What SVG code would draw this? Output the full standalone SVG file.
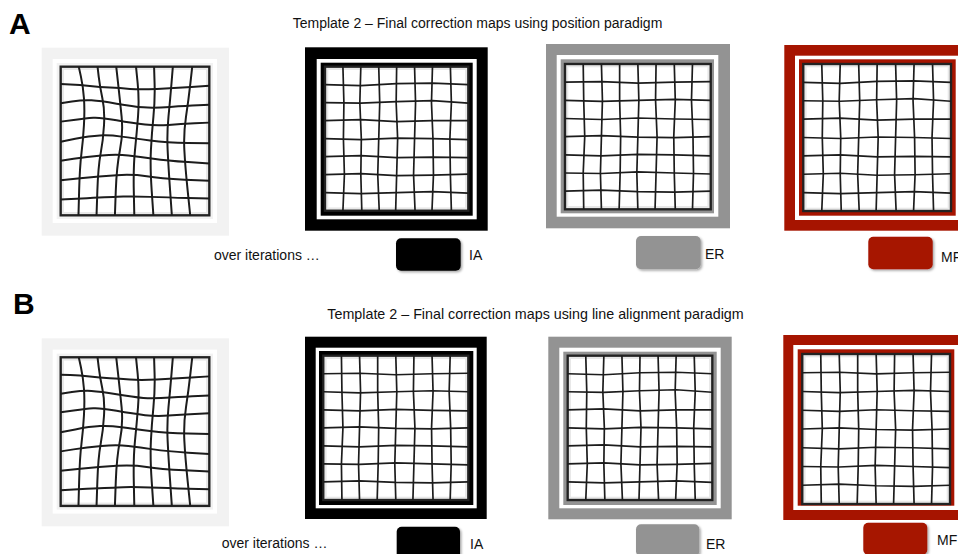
<svg xmlns="http://www.w3.org/2000/svg" xmlns:xlink="http://www.w3.org/1999/xlink" width="958" height="554" viewBox="0 0 958 554">
<style>
.gl{fill:none;stroke:#1c1c1c;stroke-width:1.7;stroke-linejoin:round;stroke-linecap:round;vector-effect:non-scaling-stroke}
.g1l{fill:none;stroke:#1c1c1c;stroke-width:2;stroke-linejoin:round;stroke-linecap:round;vector-effect:non-scaling-stroke}
.box{fill:#fff;stroke:#222;stroke-width:2.4}
.glow{fill:none;stroke:#8a8a8a;stroke-opacity:.2;stroke-width:2.4}
.txt{font-family:"Liberation Sans",Arial,Helvetica,sans-serif;font-size:14px;fill:#111}
.big{font-family:"Liberation Sans",Arial,Helvetica,sans-serif;font-size:30px;font-weight:bold;fill:#000}
.lg{filter:url(#sh)}
.blk{fill:#000}.gry{fill:#939393}.red{fill:#a61400}.lgt{fill:#f2f2f2}.wht{fill:#fff}
</style>
<defs>
<filter id="sh" x="-20%" y="-20%" width="140%" height="150%">
<feDropShadow dx="1.5" dy="1.5" stdDeviation="1" flood-color="#000" flood-opacity="0.35"/>
</filter>
<symbol id="g1" viewBox="0 0 148 148" preserveAspectRatio="none">
<path class="g1l" d="M18,0 L20.15,9.85 Q22.3,19.7 23.15,31.35 Q24,43 23.15,58 Q22.3,73 20.65,86.35 Q19,99.7 18.35,123.85 L17.7,148"/>
<path class="g1l" d="M36.7,0 L37.85,9.85 Q39,19.7 41.5,31.35 Q44,43 43.15,58 Q42.3,73 39.8,86.35 Q37.3,99.7 36.5,123.85 L35.7,148"/>
<path class="g1l" d="M55.3,0 L57.15,16.5 Q59,33 60.65,49.65 Q62.3,66.3 59,83 Q55.7,99.7 54.85,123.85 L54,148"/>
<path class="g1l" d="M75,0 L76.65,16.5 Q78.3,33 77,49.65 Q75.7,66.3 74,83 Q72.3,99.7 72.8,123.85 L73.3,148"/>
<path class="g1l" d="M93,0 L93.5,16.5 Q94,33 92.35,49.65 Q90.7,66.3 89.85,83 Q89,99.7 90.65,123.85 L92.3,148"/>
<path class="g1l" d="M111.7,0 L110.35,16.5 Q109,33 107.35,49.65 Q105.7,66.3 106.5,83 Q107.3,99.7 109,123.85 L110.7,148"/>
<path class="g1l" d="M131,0 L129.15,16.5 Q127.3,33 124.8,49.65 Q122.3,66.3 123.15,83 Q124,99.7 126.5,123.85 L129,148"/>
<path class="g1l" d="M0,17.3 L9.5,17.65 Q19,18 29,19.15 Q39,20.3 49,20.8 Q59,21.3 69,22.15 Q79,23 95.65,22.15 Q112.3,21.3 130.15,20.15 L148,19"/>
<path class="g1l" d="M0,36.3 L11.15,34.65 Q22.3,33 30.65,33.5 Q39,34 55.65,36.85 Q72.3,39.7 82.3,40.5 Q92.3,41.3 109,40.15 Q125.7,39 136.85,38.5 L148,38"/>
<path class="g1l" d="M0,54.7 L12.85,53 Q25.7,51.3 32.35,50.8 Q39,50.3 55.65,53.3 Q72.3,56.3 84,57.65 Q95.7,59 107.35,58 Q119,57 133.5,56.35 L148,55.7"/>
<path class="g1l" d="M0,74.7 L14.5,71.85 Q29,69 39,68.5 Q49,68 60.65,69.65 Q72.3,71.3 89,73.5 Q105.7,75.7 126.85,76 L148,76.3"/>
<path class="g1l" d="M0,93.7 L12.85,91.7 Q25.7,89.7 40.7,88.35 Q55.7,87 67.35,88.35 Q79,89.7 92.35,91.7 Q105.7,93.7 126.85,95 L148,96.3"/>
<path class="g1l" d="M0,113 L19.5,111 Q39,109 55.65,108 Q72.3,107 85.65,109.15 Q99,111.3 123.5,112.5 L148,113.7"/>
<path class="g1l" d="M0,132.3 L26.15,131 Q52.3,129.7 62.3,129.35 Q72.3,129 89,129.65 Q105.7,130.3 126.85,130.8 L148,131.3"/>
</symbol>
<symbol id="g2" viewBox="0 0 144 144" preserveAspectRatio="none">
<polyline class="gl" points="18,0 19,36 18.5,72 19.5,108 18,144"/>
<polyline class="gl" points="36,0 35,36 36.5,72 36,108 37,144"/>
<polyline class="gl" points="54,0 55,36 54,72 53,108 54.5,144"/>
<polyline class="gl" points="72,0 71.5,36 73,72 72,108 71,144"/>
<polyline class="gl" points="90,0 91,36 90,72 89,108 90.5,144"/>
<polyline class="gl" points="108,0 107,36 108.5,72 109,108 107.5,144"/>
<polyline class="gl" points="126,0 127,36 125.5,72 126,108 127,144"/>
<polyline class="gl" points="0,18 36,19 72,17 108,16.5 144,18"/>
<polyline class="gl" points="0,36 36,36.5 72,35 108,34 144,36.5"/>
<polyline class="gl" points="0,54 36,53 72,55 108,54 144,54"/>
<polyline class="gl" points="0,72 36,73 72,71.5 108,72 144,73"/>
<polyline class="gl" points="0,90 36,89 72,91 108,90.5 144,91"/>
<polyline class="gl" points="0,108 36,107 72,109 108,108.5 144,107.5"/>
<polyline class="gl" points="0,126 36,127 72,126 108,125 144,126.5"/>
</symbol>
<symbol id="g3" viewBox="0 0 144 144" preserveAspectRatio="none">
<polyline class="gl" points="18,0 18.5,36 19.5,72 18,108 18.5,144"/>
<polyline class="gl" points="36,0 37,36 36,72 35,108 36,144"/>
<polyline class="gl" points="54,0 54,36 55,72 54.5,108 53.5,144"/>
<polyline class="gl" points="72,0 73,36 72,72 71,108 72,144"/>
<polyline class="gl" points="90,0 89.5,36 91,72 90,108 89,144"/>
<polyline class="gl" points="108,0 109,36 107.5,72 108,108 109,144"/>
<polyline class="gl" points="126,0 125,36 126.5,72 127,108 126,144"/>
<polyline class="gl" points="0,18 36,17.5 72,19 108,18 144,17.5"/>
<polyline class="gl" points="0,36 36,37 72,36 108,35 144,36"/>
<polyline class="gl" points="0,54 36,55 72,53.5 108,54.5 144,55"/>
<polyline class="gl" points="0,72 36,71 72,72.5 108,73 144,72"/>
<polyline class="gl" points="0,90 36,91 72,89.5 108,90 144,91"/>
<polyline class="gl" points="0,108 36,108.5 72,107 108,108 144,109"/>
<polyline class="gl" points="0,126 36,125 72,126.5 108,127 144,126"/>
</symbol>
</defs>

<text class="big" x="9" y="34.3">A</text>
<text class="txt" x="292.7" y="28">Template 2 – Final correction maps using position paradigm</text>

<g id="a1">
<rect class="lgt" x="41.7" y="47.7" width="187.3" height="188"/>
<rect class="wht" x="52.7" y="59" width="164.3" height="164"/>
<rect class="lgt" x="56.7" y="63" width="156.3" height="156"/>
<rect class="box" x="60.7" y="66.7" width="148.6" height="148.6"/>
<rect class="glow" x="62.8" y="68.8" width="144.4" height="144.4"/>
<use xlink:href="#g1" x="60.7" y="66.7" width="148.6" height="148.6"/>
</g>
<g id="a2">
<rect class="blk" x="305" y="47.3" width="182.7" height="183.4"/>
<rect class="wht" x="316.7" y="59" width="160" height="160.3"/>
<rect class="blk" x="320.7" y="62.7" width="152" height="153"/>
<rect class="box" x="325" y="66.7" width="143.3" height="144"/>
<rect class="glow" x="327.1" y="68.8" width="139.1" height="139.8"/>
<use xlink:href="#g2" x="325" y="66.7" width="143.3" height="144"/>
</g>
<g id="a3">
<rect class="gry" x="546" y="44" width="184" height="184.3"/>
<rect class="wht" x="556.7" y="55" width="161.6" height="161.7"/>
<rect class="gry" x="560.7" y="59.3" width="153.3" height="154"/>
<rect class="box" x="565" y="64" width="145.7" height="145.3"/>
<rect class="glow" x="567.1" y="66.1" width="141.5" height="141.1"/>
<use xlink:href="#g3" x="565" y="64" width="145.7" height="145.3"/>
</g>
<g id="a4">
<rect class="red" x="784.3" y="45" width="200" height="185.7"/>
<rect class="wht" x="795" y="55.7" width="165" height="164.3"/>
<rect class="red" x="799" y="59.3" width="156.7" height="156.4"/>
<rect class="box" x="803.3" y="64" width="147.7" height="147"/>
<rect class="glow" x="805.4" y="66.1" width="143.5" height="142.8"/>
<use xlink:href="#g2" x="803.3" y="64" width="147.7" height="147"/>
</g>
<g id="legend-a">
<text class="txt" x="214" y="260">over iterations …</text>
<rect class="blk lg" x="396" y="238.3" width="64.7" height="32.4" rx="5"/>
<text class="txt" x="469" y="260">IA</text>
<rect class="gry lg" x="636" y="236" width="64.7" height="33.3" rx="5"/>
<text class="txt" x="705" y="258.5">ER</text>
<rect class="red lg" x="868.3" y="236.7" width="64.4" height="32.6" rx="5"/>
<text class="txt" x="941" y="262">MF</text>
</g>

<text class="big" x="13" y="314">B</text>
<text class="txt" x="327.3" y="319" style="font-size:14.3px">Template 2 – Final correction maps using line alignment paradigm</text>

<g id="b1">
<rect class="lgt" x="41.7" y="338.3" width="187.3" height="188"/>
<rect class="wht" x="52.7" y="349.6" width="164.3" height="164"/>
<rect class="lgt" x="56.7" y="353.6" width="156.3" height="156"/>
<rect class="box" x="60.7" y="357.3" width="148.6" height="148.6"/>
<rect class="glow" x="62.8" y="359.4" width="144.4" height="144.4"/>
<use xlink:href="#g1" x="60.7" y="357.3" width="148.6" height="148.6"/>
</g>
<g id="b2">
<rect class="blk" x="305" y="336.7" width="181.7" height="182.3"/>
<rect class="wht" x="315.7" y="347.7" width="161" height="160.6"/>
<rect class="blk" x="319" y="351" width="154.3" height="154"/>
<rect class="box" x="323.3" y="355.7" width="145" height="144.3"/>
<rect class="glow" x="325.4" y="357.8" width="140.8" height="140.1"/>
<use xlink:href="#g3" x="323.3" y="355.7" width="145" height="144.3"/>
</g>
<g id="b3">
<rect class="gry" x="548.3" y="336.7" width="183.4" height="182.6"/>
<rect class="wht" x="559.3" y="347.7" width="161.4" height="160.6"/>
<rect class="gry" x="563.3" y="351.7" width="153.4" height="153.3"/>
<rect class="box" x="567.7" y="355.7" width="144.6" height="144.3"/>
<rect class="glow" x="569.8" y="357.8" width="140.4" height="140.1"/>
<use xlink:href="#g2" x="567.7" y="355.7" width="144.6" height="144.3"/>
</g>
<g id="b4">
<rect class="red" x="783.3" y="335" width="200" height="185"/>
<rect class="wht" x="793.3" y="345" width="165" height="165"/>
<rect class="red" x="797.7" y="349.3" width="156.6" height="156.4"/>
<rect class="box" x="802.3" y="354" width="147.7" height="150"/>
<rect class="glow" x="804.4" y="356.1" width="143.5" height="145.8"/>
<use xlink:href="#g3" x="802.3" y="354" width="147.7" height="150"/>
</g>
<g id="legend-b">
<text class="txt" x="221.7" y="548">over iterations …</text>
<rect class="blk lg" x="396.7" y="526.7" width="63.3" height="32" rx="5"/>
<text class="txt" x="470" y="548.5">IA</text>
<rect class="gry lg" x="636" y="524.3" width="63.3" height="32" rx="5"/>
<text class="txt" x="706" y="549">ER</text>
<rect class="red lg" x="863.3" y="522.7" width="64" height="32" rx="5"/>
<text class="txt" x="937" y="545">MF</text>
</g>
</svg>
